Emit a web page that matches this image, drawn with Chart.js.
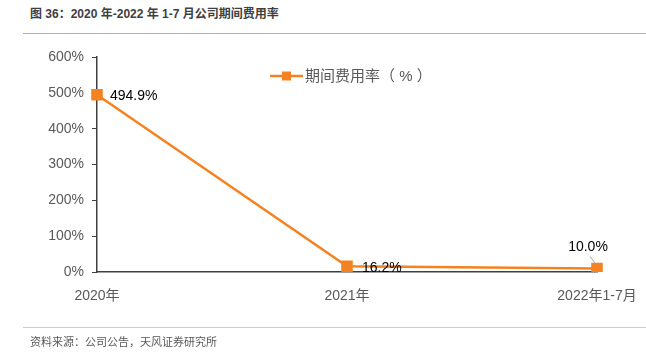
<!DOCTYPE html>
<html>
<head>
<meta charset="utf-8">
<script src="https://cdn.jsdelivr.net/npm/chart.js@4/dist/chart.umd.min.js"></script>
<style>
    html, body { margin: 0; padding: 0; background: #fff; }
    #wrap { position: relative; width: 646px; height: 352px; overflow: hidden;
        font-family: "Liberation Sans", "Noto Sans CJK SC", sans-serif; }
    #title { position: absolute; left: 30px; top: 4px; font-size: 12px; font-weight: bold; color: #404040; }
    #topline { position: absolute; left: 23px; right: 0; top: 33px; height: 1px; background: #f4a15d; }
    #botline { position: absolute; left: 23px; right: 0; top: 327px; height: 1px; background: #f6c49c; }
    #source { position: absolute; left: 30px; top: 333px; font-size: 11px; color: #595959; }
    #chart { position: absolute; left: 0; top: 0; }
</style>
</head>
<body>
<div id="wrap">
    <div id="title">图 36：2020 年-2022 年 1-7 月公司期间费用率</div>
    <div id="topline"></div>
    <canvas id="chart" width="646" height="352"></canvas>
    <div id="botline"></div>
    <div id="source">资料来源：公司公告，天风证券研究所</div>
</div>
<script>
const categories = ["2020年", "2021年", "2022年1-7月"];
const expenseRate = [494.9, 16.2, 10.0];
const seriesName = "期间费用率（ % ）";

const ORANGE = "rgb(245, 130, 32)";
const FONT = "'Liberation Sans', 'Noto Sans CJK SC', sans-serif";

const overlay = {
    id: "overlay",
    afterDatasetsDraw(chart) {
        const ctx = chart.ctx;
        const meta = chart.getDatasetMeta(0);
        ctx.save();
        ctx.font = "14px " + FONT;
        ctx.fillStyle = "#000";
        ctx.textBaseline = "middle";

        // value labels
        const p0 = meta.data[0], p1 = meta.data[1], p2 = meta.data[2];
        ctx.textAlign = "left";
        ctx.fillText(expenseRate[0].toFixed(1) + "%", p0.x + 13, p0.y + 1);
        ctx.fillText(expenseRate[1].toFixed(1) + "%", p1.x + 15, p1.y + 2);
        ctx.textAlign = "center";
        ctx.fillText(expenseRate[2].toFixed(1) + "%", p2.x - 9, p2.y - 21);
        ctx.strokeStyle = "#a6a6a6";
        ctx.lineWidth = 1;
        ctx.beginPath();
        ctx.moveTo(p2.x - 7, p2.y - 12);
        ctx.lineTo(p2.x - 1, p2.y - 4);
        ctx.stroke();

        // legend
        const lx = 270, ly = 76;
        ctx.strokeStyle = ORANGE;
        ctx.lineWidth = 2.5;
        ctx.beginPath();
        ctx.moveTo(lx, ly);
        ctx.lineTo(lx + 33, ly);
        ctx.stroke();
        ctx.fillStyle = ORANGE;
        ctx.fillRect(lx + 12, ly - 4.5, 9, 9);
        ctx.font = "15px " + FONT;
        ctx.fillStyle = "#595959";
        ctx.textAlign = "left";
        ctx.fillText(seriesName, lx + 35, ly + 1);
        ctx.restore();
    }
};

new Chart(document.getElementById("chart").getContext("2d"), {
    type: "line",
    data: {
        labels: categories,
        datasets: [{
            label: seriesName,
            data: expenseRate,
            borderColor: ORANGE,
            backgroundColor: ORANGE,
            borderWidth: 2.5,
            pointStyle: "rect",
            pointRadius: 6.4,
            pointHoverRadius: 6.4,
            tension: 0,
        }],
    },
    options: {
        responsive: false,
        animation: false,
        layout: { padding: { left: 0, right: 49, top: 57, bottom: 40 } },
        plugins: {
            legend: { display: false },
            tooltip: { enabled: false },
        },
        scales: {
            x: {
                offset: false,
                afterFit: (s) => { s.height = 40; s.paddingLeft = 0; s.paddingRight = 0; },
                grid: { display: false, drawTicks: false },
                border: { display: true, color: "#404040", width: 1.5 },
                ticks: {
                    padding: 16,
                    color: "#595959",
                    font: { size: 14, family: FONT },
                    maxRotation: 0,
                },
            },
            y: {
                min: 0,
                max: 600,
                afterFit: (s) => { s.width = 97; s.paddingTop = 0; s.paddingBottom = 0; },
                grid: { drawOnChartArea: false, drawTicks: true, tickLength: 5, color: "#404040" },
                border: { display: true, color: "#404040", width: 1.5 },
                ticks: {
                    stepSize: 100,
                    padding: 8,
                    color: "#595959",
                    font: { size: 14, family: FONT },
                    callback: (v) => v + "%",
                },
            },
        },
    },
    plugins: [overlay],
});
</script>
</body>
</html>
